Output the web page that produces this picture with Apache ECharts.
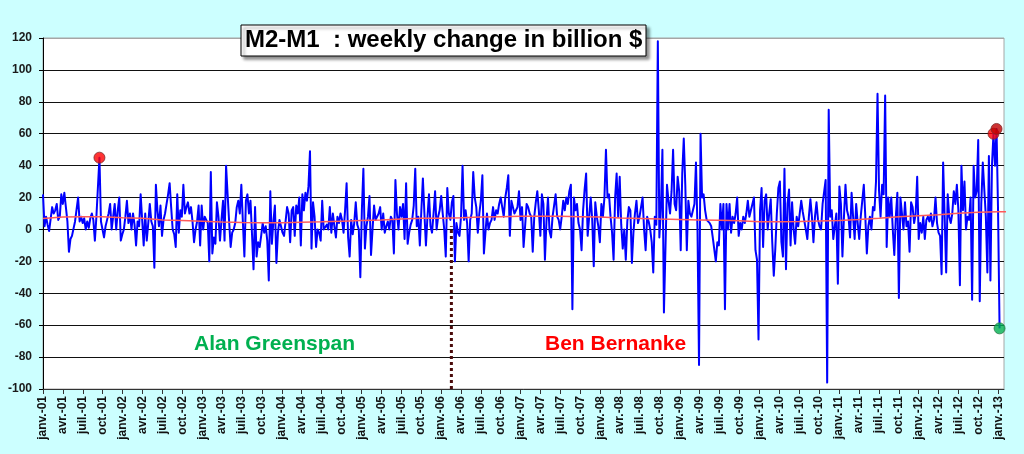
<!DOCTYPE html>
<html>
<head>
<meta charset="utf-8">
<script src="https://cdn.jsdelivr.net/npm/echarts@6/dist/echarts.min.js"></script>
<style>
html,body{margin:0;padding:0;background:#CCFFFF;}
#chart{width:1024px;height:454px;}
</style>
</head>
<body>
<div id="chart"></div>
<script>
// Weekly change of M2-M1 (billion $), first week of Jan 2001 to Jan 2013
const weeklyChange = [
  22, 2, 8, 3, -1, 0, 14, 10, 12, 16,
  6, 8, 22, 16, 23, 14, 5, -14, -6, -4,
  -5, 5, 4, 20, 5, 8, 4, 7, 0, 5,
  1, 7, 10, 6, -7, 8, 9, 45, 5, 4,
  -5, 2, 6, 10, 16, 0, 8, 16, 0, 12,
  20, -7, -3, 0, 8, 18, 4, 10, 0, 10,
  3, -10, 5, 2, 22, 6, -10, 10, -7, 4,
  16, 5, 2, -24, 28, 12, 2, 15, -4, 6,
  10, 16, 22, 29, 14, 0, -3, -11, 22, -2,
  12, 8, 28, 10, 14, 17, 10, 14, 5, -8,
  0, 5, 15, -10, 15, 0, 8, 6, 4, -20,
  36, -15, -5, -9, 17, 8, -7, 6, 18, -7,
  40, 22, 5, -11, -2, 0, 4, 14, 18, 10,
  28, 5, -17, 18, 22, 10, 18, -3, -25, 14,
  -17, -8, -11, -4, 4, -2, 2, -7, -32, 24,
  -9, 5, 15, -21, -2, 6, 2, -2, -4, 5,
  14, 10, -8, 12, 14, -4, 15, 10, 20, -10,
  22, 12, 23, 18, 27, 49, -12, 17, 8, -11,
  0, -2, -7, 18, 0, 1, 3, 0, 14, -2,
  10, 2, -5, 8, 4, 10, 6, -2, 12, 29,
  -5, -17, 6, -3, 4, 17, 3, 0, -30, 12,
  38, -12, 2, 8, 21, -16, 0, 15, 6, 5,
  10, 14, 0, 10, -2, 2, 5, 0, 8, 6,
  -15, 31, 10, 0, 14, 8, 16, -6, 29, -9,
  -2, 3, 6, 15, 38, 2, 8, -10, 12, 32,
  10, -10, 8, 22, 2, -2, 10, 24, 0, 8,
  12, 21, 10, 0, -17, 26, 10, 6, 17, 21,
  -20, 4, -2, -4, 8, 40, 6, 12, 4, -20,
  6, 10, 36, 20, 14, -2, 10, 18, 34, -15,
  -2, 10, 0, 4, 6, 14, 6, 12, 10, 16,
  20, 14, 8, 20, 26, 34, -4, 18, 18, 10,
  10, 14, 24, 6, 14, -11, 2, 16, 14, 10,
  8, -14, 8, 17, 24, 12, -4, 22, 16, -19,
  5, 20, -1, -5, 8, 15, 22, 8, 6, 0,
  8, 18, 12, 20, 16, 24, 28, -50, 20, 12,
  16, 4, 0, -13, 12, 25, 35, -4, 8, 20,
  6, -23, 17, 8, 2, -8, 16, 8, 20, 50,
  20, 22, 8, -2, -19, 20, 35, 8, 33, 3,
  -12, 0, -19, 5, 14, 12, -21, -2, 10, 18,
  4, 8, 14, 20, 0, -13, 8, 5, 0, -8,
  -27, 8, 3, 118, -5, 12, 50, -52, -52, 28,
  18, 10, 24, 50, 16, 12, 33, 24, -13, 35,
  57, 28, -13, 18, 10, 8, 12, 16, 42, 0,
  -85, 60, 20, 22, 12, 6, 5, 4, 2, -5,
  -4, -20, -8, -10, 16, 0, 16, -50, 16, 0,
  16, -2, 8, 4, 10, 20, -4, 4, 0, 8,
  4, 10, 18, 8, 12, 16, 20, -13, -19, -69,
  12, 26, -11, 18, 22, 0, 10, 19, -8, -29,
  -12, 10, 26, 30, -8, -17, 38, -25, 16, 25,
  -10, 17, 0, -9, 8, 2, 10, 18, 11, 12,
  0, -6, 8, 19, 8, -8, 8, 17, 6, 2,
  0, 16, 16, 31, -96, 75, 8, 12, -6, -6,
  10, -34, 27, 16, -17, 8, 28, 12, 8, -5,
  23, 8, -6, 16, 4, -6, 8, 18, 28, 8,
  -15, 2, 8, 0, 14, 12, 30, 85, 24, 8,
  28, 22, 84, -11, 20, 8, 20, 0, -16, 8,
  23, -43, 20, 19, 0, 17, 2, 5, -14, 17,
  14, 4, 10, 33, -6, 4, -2, 8, -6, 6,
  8, 5, 10, 2, 6, 20, 4, -2, -4, -28,
  42, 8, -27, 22, 8, 4, 10, 24, 16, 28,
  12, -35, 40, 12, 30, 0, 8, 6, 20, -44,
  40, 20, 24, 56, -45, 16, 42, 42, 8, -27,
  46, -32, 40, 60, 40, 63, 12, -62
];

// Smoothed trend (red line), one value per quarter start from janv.-01
const trendQuarterly = [
  6.8, 7.8, 7.9, 7.9, 7.3, 7.0, 6.0, 5.6, 5.1, 4.6,
  4.3, 4.2, 4.2, 4.5, 4.8, 5.2, 5.6, 6.0, 6.5, 7.0,
  7.0, 7.3, 7.8, 8.0, 8.2, 8.2, 8.2, 8.0, 7.8, 7.2,
  6.9, 6.5, 6.3, 6.0, 5.7, 5.4, 4.8, 4.8, 5.0, 5.3,
  5.6, 6.2, 7.0, 8.0, 8.6, 9.2, 10.2, 10.8, 11.1, 11.2
];

// Highlighted weeks (indices into weeklyChange)
const redMarkerWeeks = [37, 623];
const darkRedMarkerWeeks = [625];
const greenMarkerWeeks = [627];

// Bernanke takes office (decimal year) and the top of the dotted marker line
const bernankeStart = 2006.13;
const dottedLineRange = [-100, 2];

const monthLabels = ['janv.', 'avr.', 'juil.', 'oct.'];
const yTicks = { min: -100, max: 120, interval: 20 };
const startYear = 2001;
const endYear = 2013.072;

// week dates as decimal years
const weeks = weeklyChange.map((_, i) => startYear + i * 7 / 365.25);
const quarters = trendQuarterly.map((_, k) => startYear + k * 0.25);

const lineData = weeks.map((w, i) => [w, weeklyChange[i]]);
const trendData = quarters.map((q, k) => [q, trendQuarterly[k]]);
const pts = idx => idx.map(i => [weeks[i], weeklyChange[i]]);

const FONT = "'Liberation Sans', Arial, sans-serif";

const chart = echarts.init(document.getElementById('chart'), null, { renderer: 'canvas' });

const splitColors = [];
for (let v = yTicks.min; v <= yTicks.max; v += yTicks.interval) {
  splitColors.push(v === yTicks.min ? '#777' : (v === yTicks.max ? '#a6a6a6' : '#111'));
}

chart.setOption({
  animation: false,
  backgroundColor: '#CCFFFF',
  grid: {
    left: 43, right: 20, top: 38, bottom: 65,
    show: true, backgroundColor: '#ffffff', borderColor: '#a6a6a6', borderWidth: 1
  },
  xAxis: {
    type: 'value',
    min: startYear, max: endYear, interval: 0.25,
    axisLine: { onZero: false, lineStyle: { color: '#333', width: 1 } },
    axisTick: { show: true, length: 5, lineStyle: { color: '#333' } },
    splitLine: { show: false },
    axisLabel: {
      rotate: 90, margin: 7, showMaxLabel: false,
      color: '#111', fontSize: 12, fontWeight: 'bold', fontFamily: FONT,
      formatter: v => {
        const q4 = v * 4;
        if (Math.abs(q4 - Math.round(q4)) > 0.01) return '';
        const yr = Math.floor(Math.round(q4) / 4);
        const q = Math.round(q4) - yr * 4;
        return monthLabels[q] + '-' + String(yr % 100).padStart(2, '0');
      }
    }
  },
  yAxis: {
    type: 'value',
    min: yTicks.min, max: yTicks.max, interval: yTicks.interval,
    axisLine: { show: true, lineStyle: { color: '#000', width: 1 } },
    axisTick: { show: true, length: 4, lineStyle: { color: '#000' } },
    axisLabel: { margin: 11, color: '#1a1a1a', fontSize: 12, fontWeight: 'bold', fontFamily: FONT },
    splitLine: { show: true, lineStyle: { color: splitColors, width: 1.2 } }
  },
  series: [
    {
      type: 'line', data: dottedLineRange.map(v => [bernankeStart, v]),
      symbol: 'none', silent: true, z: 2,
      lineStyle: { color: '#4a0a0a', width: 3, type: [3, 3], cap: 'butt' }
    },
    {
      type: 'line', data: lineData, symbol: 'none', z: 3,
      lineStyle: { color: '#0000ff', width: 2, join: 'round' }
    },
    {
      type: 'line', data: trendData, symbol: 'none', z: 4,
      lineStyle: { color: '#ff5a5a', width: 1.5 }
    },
    {
      type: 'scatter', data: pts(redMarkerWeeks), symbolSize: 11, z: 5,
      itemStyle: { color: '#ff0000', borderColor: '#7a2a2a', borderWidth: 1 }
    },
    {
      type: 'scatter', data: pts(darkRedMarkerWeeks), symbolSize: 11, z: 5,
      itemStyle: { color: '#c00000', borderColor: '#7a2a2a', borderWidth: 1 }
    },
    {
      type: 'scatter', data: pts(greenMarkerWeeks), symbolSize: 11, z: 5,
      itemStyle: { color: '#00b050', borderColor: '#2a7a4a', borderWidth: 1 }
    }
  ],
  graphic: [
    {
      type: 'rect', x: 241, y: 25, z: 100,
      shape: { width: 405, height: 31 },
      style: { fill: '#ffffff', stroke: '#000', lineWidth: 1,
               shadowBlur: 3, shadowOffsetX: 3, shadowOffsetY: 3, shadowColor: 'rgba(0,0,0,0.45)' }
    },
    {
      type: 'text', x: 245, y: 40.5, z: 101,
      style: { text: 'M2-M1  : weekly change in billion $', font: 'bold 24px ' + FONT,
               fill: '#000', align: 'left', verticalAlign: 'middle' }
    },
    {
      type: 'text', x: 194, y: 344, z: 101,
      style: { text: 'Alan Greenspan', font: 'bold 21px ' + FONT,
               fill: '#00b050', align: 'left', verticalAlign: 'middle' }
    },
    {
      type: 'text', x: 545, y: 344, z: 101,
      style: { text: 'Ben Bernanke', font: 'bold 21px ' + FONT,
               fill: '#ff0000', align: 'left', verticalAlign: 'middle' }
    }
  ]
});
</script>
</body>
</html>
